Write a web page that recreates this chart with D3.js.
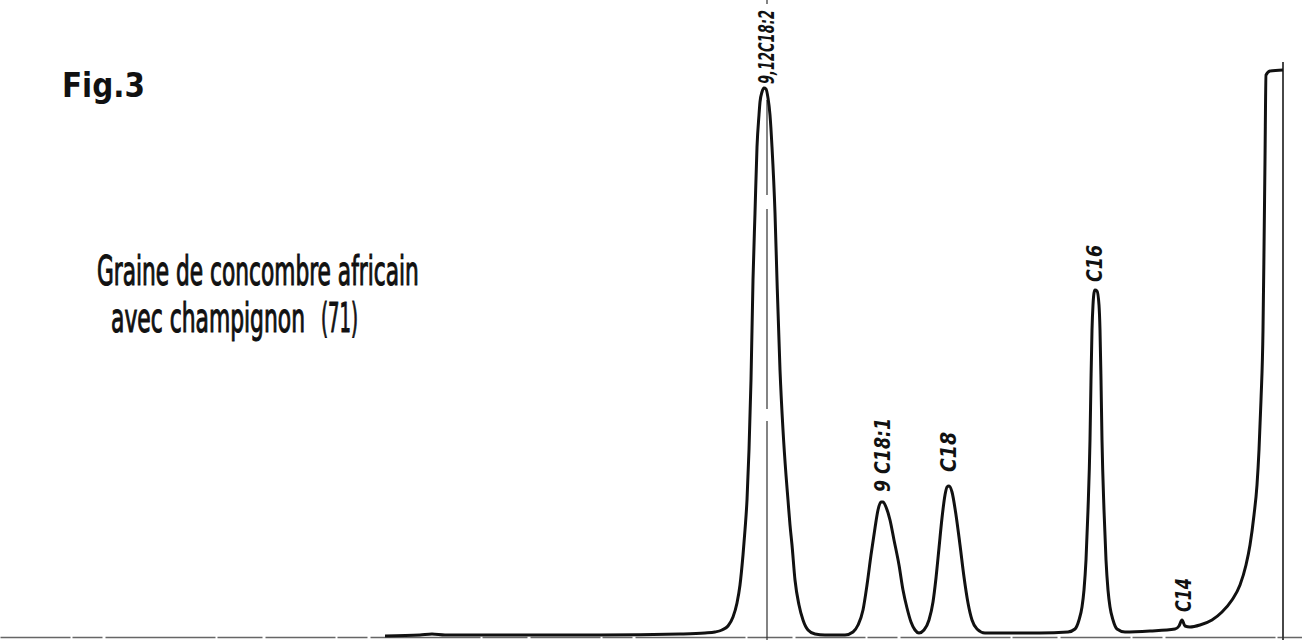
<!DOCTYPE html>
<html>
<head>
<meta charset="utf-8">
<script src="https://cdn.jsdelivr.net/npm/d3@7"></script>
<style>
body { margin: 0; background: #fff; }
svg { display: block; }
</style>
</head>
<body>
<div id="viz"></div>
<script>
// paper units: 1 unit = 10 px of the recorder chart
var retention = [38.5, 42.0, 43.2, 44.5, 52.0, 60.0, 68.0, 70.5, 71.5, 72.2, 72.8, 73.3, 73.7, 74.0, 74.3, 74.5,
    74.7, 74.9, 75.1, 75.3, 75.5, 75.7, 75.9, 76.0, 76.2, 76.4, 76.6, 76.8, 77.0, 77.2, 77.5, 77.7, 78.0, 78.3,
    78.6, 78.8, 79.0, 79.2, 79.5, 79.9, 80.3, 80.8, 81.5, 82.5, 84.5, 85.3, 85.8, 86.3, 86.7, 87.1, 87.5, 87.8,
    88.1, 88.3, 88.6, 89.0, 89.4, 89.9, 90.3, 90.7, 91.1, 91.5, 91.9, 92.4, 92.9, 93.3, 93.6, 93.9, 94.2, 94.5,
    94.7, 94.9, 95.2, 95.6, 96.0, 96.4, 96.8, 97.2, 97.7, 98.5, 104.0, 106.8, 107.5, 107.9, 108.2, 108.4, 108.6,
    108.8, 109.0, 109.1, 109.2, 109.3, 109.4, 109.5, 109.7, 109.9, 110.0, 110.1, 110.2, 110.4, 110.6, 110.8, 111.0,
    111.3, 111.7, 112.5, 115.0, 117.5, 117.9, 118.2, 118.5, 119.0, 120.0, 121.2, 122.2, 123.2, 124.0, 124.6, 125.0,
    125.4, 125.7, 125.9, 126.1, 126.3, 126.4, 126.5, 126.6, 127.0, 128.3];

var signal = [0.1, 0.2, 0.3, 0.2, 0.2, 0.2, 0.3, 0.4, 0.5, 0.7, 1.1, 2.0, 3.4, 5.2, 8.2, 10.7,
    13.7, 18.7, 25.7, 35.7, 42.4, 49.0, 52.2, 53.5, 54.5, 54.9, 54.8, 53.9, 52.2, 49.0, 42.4, 35.7, 26.7, 20.7,
    16.2, 13.7, 11.2, 9.2, 5.7, 3.2, 1.7, 0.7, 0.3, 0.2, 0.2, 0.5, 1.2, 2.7, 5.2, 8.2, 10.9, 12.7,
    13.5, 13.5, 13.0, 11.7, 9.7, 7.2, 4.7, 2.9, 1.5, 0.7, 0.4, 0.7, 1.7, 3.5, 5.9, 8.9, 11.9, 14.2,
    15.0, 15.1, 14.5, 12.2, 9.2, 6.0, 3.4, 1.7, 0.8, 0.4, 0.4, 0.5, 0.8, 1.7, 3.0, 4.7, 7.7,
    12.7, 19.7, 25.7, 30.7, 33.2, 34.4, 34.7, 34.6, 33.2, 30.7, 25.7, 19.7, 12.7, 7.7, 4.7, 3.0,
    1.7, 0.8, 0.5, 0.6, 0.8, 1.1, 1.7, 1.1, 1.0, 1.2, 1.7, 2.5, 3.7, 5.2, 7.2, 9.2,
    12.2, 15.2, 18.7, 23.7, 30.7, 38.7, 47.7, 56.2, 56.6, 56.7];

// peak labels
var peakNames = ["9,12C18:2", "9 C18:1", "C18", "C16", "C14"];
var peakRet = [76.6, 88.2, 94.8, 109.4, 118.3];
var peakTop = [54.9, 13.5, 15.1, 34.7, 1.7];

// injection mark through main peak, and end-of-run pen line
var markRet = [76.7, 128.3];
var markTop = [63.7, 57.5];

var width = 1302,
    height = 640;

var svg = d3.select("div#viz")
    .append("svg")
    .attr("width", width)
    .attr("height", height);

var x = d3.scaleLinear().domain([0, 130.2]).range([0, width]);
var y = d3.scaleLinear().domain([0, 63.7]).range([637, 0]);

// squeeze a text to a given length with a transform (keeps its box honest)
function fit(sel, len, tx, ty, rot) {
    sel.each(function() {
        var w = this.getComputedTextLength();
        d3.select(this).attr("transform",
            "translate(" + tx + "," + ty + ")" + (rot ? " rotate(" + rot + ")" : "") +
            " scale(" + (len / w) + ",1)");
    });
}

// baseline of the paper
var axis = svg.append("g")
    .attr("transform", "translate(0," + y(0) + ")")
    .call(d3.axisBottom(x).ticks(0).tickSize(0).tickFormat(""));
axis.select(".domain")
    .attr("stroke", "#666")
    .attr("stroke-width", 1.3)
    .attr("stroke-dasharray", "70 2 30 3 110 2 45 3");

// marker lines
svg.append("g")
    .selectAll("line")
    .data(d3.zip(markRet, markTop))
    .enter().append("line")
    .attr("x1", function(d) { return x(d[0]); })
    .attr("x2", function(d) { return x(d[0]); })
    .attr("y1", function(d) { return y(d[1]); })
    .attr("y2", height)
    .attr("stroke", "#333")
    .attr("stroke-width", function(d, i) { return i == 0 ? 1.2 : 1.8; })
    .attr("stroke-dasharray", function(d, i) { return i == 0 ? "4 96 95 14 200 12 240" : null; });

// chromatogram trace
var line = d3.line()
    .x(function(d) { return x(d[0]); })
    .y(function(d) { return y(d[1]); })
    .curve(d3.curveMonotoneX);

svg.append("path")
    .datum(d3.zip(retention, signal))
    .attr("d", line)
    .attr("fill", "none")
    .attr("stroke", "#111")
    .attr("stroke-width", 3)
    .attr("stroke-linejoin", "round");

// peak labels, written vertically
var labelGap = [4, 10, 14, 8, 8];
var labelLen = [74, 74, 40, 37, 34];

svg.append("g")
    .selectAll("text")
    .data(peakNames)
    .enter().append("text")
    .attr("dy", "0.38em")
    .style("font-family", "'DejaVu Sans Condensed', 'DejaVu Sans', sans-serif")
    .style("font-style", "italic")
    .style("font-weight", "bold")
    .style("font-size", "21px")
    .attr("fill", "#111")
    .text(function(d) { return d; })
    .each(function(d, i) {
        fit(d3.select(this), labelLen[i], x(peakRet[i]), y(peakTop[i]) - labelGap[i], -90);
    });

// titles
var font = "'DejaVu Sans Condensed', 'Liberation Sans Narrow', sans-serif";

svg.append("text")
    .style("font-family", font).style("font-weight", "bold").style("font-size", "33px")
    .attr("fill", "#111")
    .text("Fig.3")
    .call(fit, 83, 62, 97);

svg.append("text")
    .style("font-family", font).style("font-size", "40px")
    .attr("fill", "#111").attr("stroke", "#111").attr("stroke-width", 1.1)
    .text("Graine de concombre africain")
    .call(fit, 322, 97, 285);

svg.append("text")
    .style("font-family", font).style("font-size", "40px")
    .attr("fill", "#111").attr("stroke", "#111").attr("stroke-width", 1.1)
    .text("avec champignon")
    .call(fit, 194, 111, 332);

svg.append("text")
    .style("font-family", font).style("font-size", "40px")
    .attr("fill", "#111").attr("stroke", "#111").attr("stroke-width", 1.1)
    .text("(71)")
    .call(fit, 37, 321, 332);
</script>
</body>
</html>
